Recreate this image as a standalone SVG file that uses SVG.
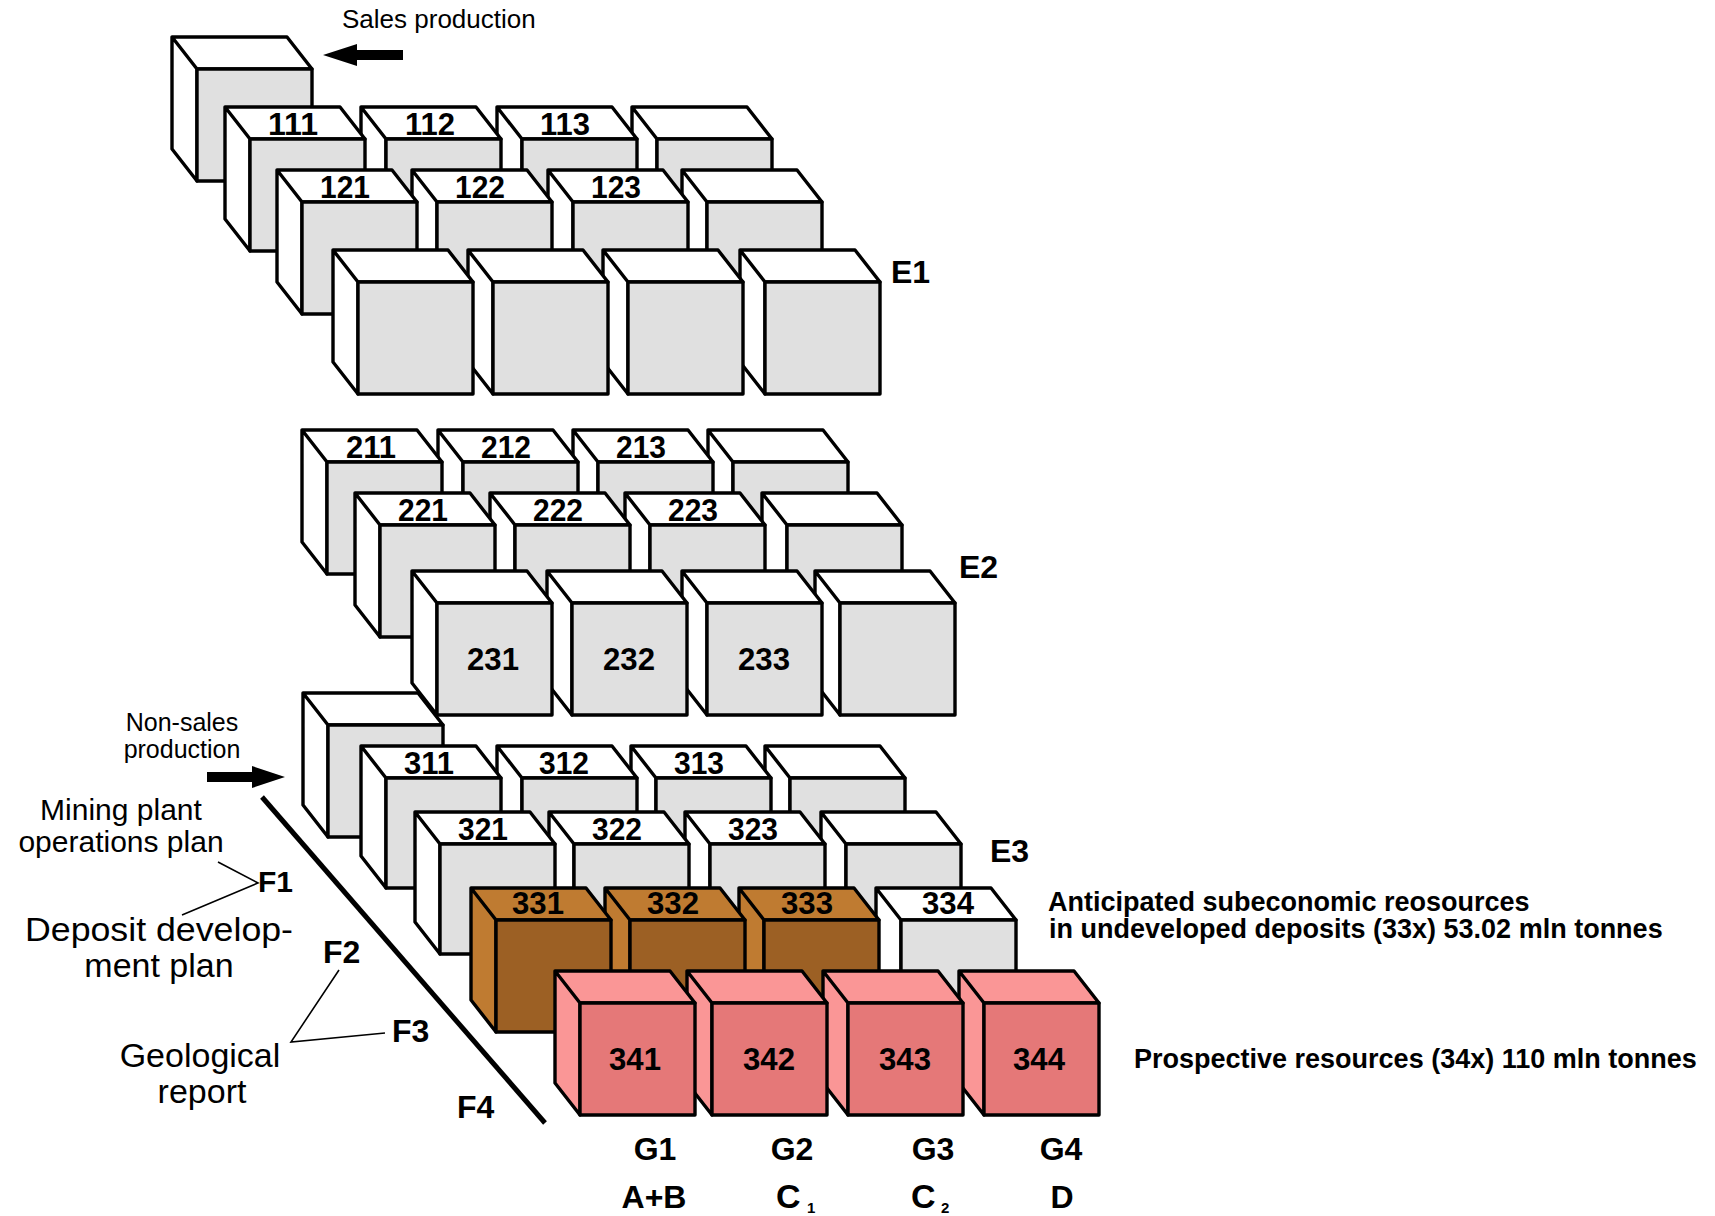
<svg xmlns="http://www.w3.org/2000/svg" xmlns:xlink="http://www.w3.org/1999/xlink" width="1715" height="1216" viewBox="0 0 1715 1216">
<style>
.bx{stroke:#000;stroke-width:3.4;stroke-linejoin:round}
.g{fill:#e0e0e0;color:#ffffff}
.br{fill:#9c6024;color:#bf7b31}
.pk{fill:#e57878;color:#fa9696}
text{font-family:"Liberation Sans",Arial,Helvetica,sans-serif;fill:#000}
.n{font-weight:bold;font-size:32px;text-anchor:middle}
.lb{font-weight:bold;font-size:32px}
.gl{font-weight:bold;font-size:32px;text-anchor:middle}
.rg{font-size:26px}
.rgm{font-size:25px;text-anchor:middle}
.big{font-size:30px;text-anchor:middle}
.big2{font-size:34px;text-anchor:middle}
.note{font-weight:bold;font-size:27px}
.ld{stroke:#000;stroke-width:1.6;fill:none}
.ar{fill:#000;stroke:none}
</style>
<defs>
<g id="box"><path d="M0,0H115L90,-32H-25Z M0,0L-25,-32V80L0,112Z" fill="currentColor"/><rect width="115" height="112"/></g>
<g id="boxs"><path d="M0,0H115L90,-32H-25Z M0,0L-25,-32V78L0,110Z" fill="currentColor"/><rect width="115" height="110"/></g>
</defs>
<rect width="1715" height="1216" fill="#fff"/>

<!-- E1 -->
<g id="e1-sales-box"><use href="#box" class="bx g" x="197" y="69"/></g>
<g id="b114"><use href="#box" class="bx g" x="657" y="139"/></g>
<g id="b113"><use href="#box" class="bx g" x="522" y="139"/><text class="n" x="565" y="135" textLength="50" lengthAdjust="spacingAndGlyphs">113</text></g>
<g id="b112"><use href="#box" class="bx g" x="386" y="139"/><text class="n" x="430" y="135" textLength="50" lengthAdjust="spacingAndGlyphs">112</text></g>
<g id="b111"><use href="#box" class="bx g" x="250" y="139"/><text class="n" x="293" y="135" textLength="50" lengthAdjust="spacingAndGlyphs">111</text></g>
<g id="b124"><use href="#box" class="bx g" x="707" y="202"/></g>
<g id="b123"><use href="#box" class="bx g" x="573" y="202"/><text class="n" x="616" y="198" textLength="50" lengthAdjust="spacingAndGlyphs">123</text></g>
<g id="b122"><use href="#box" class="bx g" x="437" y="202"/><text class="n" x="480" y="198" textLength="50" lengthAdjust="spacingAndGlyphs">122</text></g>
<g id="b121"><use href="#box" class="bx g" x="302" y="202"/><text class="n" x="345" y="198" textLength="50" lengthAdjust="spacingAndGlyphs">121</text></g>
<g id="b134"><use href="#box" class="bx g" x="765" y="282"/></g>
<g id="b133"><use href="#box" class="bx g" x="628" y="282"/></g>
<g id="b132"><use href="#box" class="bx g" x="493" y="282"/></g>
<g id="b131"><use href="#box" class="bx g" x="358" y="282"/></g>
<g id="label-e1"><text class="lb" x="891" y="283">E1</text></g>

<!-- E3 standalone (behind E2 front row) -->
<g id="e3-nonsales-box"><use href="#box" class="bx g" x="328" y="725"/></g>

<!-- E2 -->
<g id="b214"><use href="#box" class="bx g" x="733" y="462"/></g>
<g id="b213"><use href="#box" class="bx g" x="598" y="462"/><text class="n" x="641" y="458" textLength="50" lengthAdjust="spacingAndGlyphs">213</text></g>
<g id="b212"><use href="#box" class="bx g" x="463" y="462"/><text class="n" x="506" y="458" textLength="50" lengthAdjust="spacingAndGlyphs">212</text></g>
<g id="b211"><use href="#box" class="bx g" x="327" y="462"/><text class="n" x="371" y="458" textLength="50" lengthAdjust="spacingAndGlyphs">211</text></g>
<g id="b224"><use href="#box" class="bx g" x="787" y="525"/></g>
<g id="b223"><use href="#box" class="bx g" x="650" y="525"/><text class="n" x="693" y="521" textLength="50" lengthAdjust="spacingAndGlyphs">223</text></g>
<g id="b222"><use href="#box" class="bx g" x="515" y="525"/><text class="n" x="558" y="521" textLength="50" lengthAdjust="spacingAndGlyphs">222</text></g>
<g id="b221"><use href="#box" class="bx g" x="380" y="525"/><text class="n" x="423" y="521" textLength="50" lengthAdjust="spacingAndGlyphs">221</text></g>
<g id="b234"><use href="#box" class="bx g" x="840" y="603"/></g>
<g id="b233"><use href="#box" class="bx g" x="707" y="603"/><text class="n" x="764" y="670" textLength="52" lengthAdjust="spacingAndGlyphs">233</text></g>
<g id="b232"><use href="#box" class="bx g" x="572" y="603"/><text class="n" x="629" y="670" textLength="52" lengthAdjust="spacingAndGlyphs">232</text></g>
<g id="b231"><use href="#box" class="bx g" x="437" y="603"/><text class="n" x="493" y="670" textLength="52" lengthAdjust="spacingAndGlyphs">231</text></g>
<g id="label-e2"><text class="lb" x="959" y="578">E2</text></g>

<!-- E3 -->
<g id="b314"><use href="#boxs" class="bx g" x="790" y="778"/></g>
<g id="b313"><use href="#boxs" class="bx g" x="656" y="778"/><text class="n" x="699" y="774" textLength="50" lengthAdjust="spacingAndGlyphs">313</text></g>
<g id="b312"><use href="#boxs" class="bx g" x="522" y="778"/><text class="n" x="564" y="774" textLength="50" lengthAdjust="spacingAndGlyphs">312</text></g>
<g id="b311"><use href="#boxs" class="bx g" x="386" y="778"/><text class="n" x="429" y="774" textLength="50" lengthAdjust="spacingAndGlyphs">311</text></g>
<g id="b324"><use href="#boxs" class="bx g" x="846" y="844"/></g>
<g id="b323"><use href="#boxs" class="bx g" x="710" y="844"/><text class="n" x="753" y="840" textLength="50" lengthAdjust="spacingAndGlyphs">323</text></g>
<g id="b322"><use href="#boxs" class="bx g" x="574" y="844"/><text class="n" x="617" y="840" textLength="50" lengthAdjust="spacingAndGlyphs">322</text></g>
<g id="b321"><use href="#boxs" class="bx g" x="440" y="844"/><text class="n" x="483" y="840" textLength="50" lengthAdjust="spacingAndGlyphs">321</text></g>
<g id="b334"><use href="#box" class="bx g" x="901" y="920"/><text class="n" x="948" y="914" textLength="52" lengthAdjust="spacingAndGlyphs">334</text></g>
<g id="b333"><use href="#box" class="bx br" x="764" y="920"/><text class="n" x="807" y="914" textLength="52" lengthAdjust="spacingAndGlyphs">333</text></g>
<g id="b332"><use href="#box" class="bx br" x="630" y="920"/><text class="n" x="673" y="914" textLength="52" lengthAdjust="spacingAndGlyphs">332</text></g>
<g id="b331"><use href="#box" class="bx br" x="496" y="920"/><text class="n" x="538" y="914" textLength="52" lengthAdjust="spacingAndGlyphs">331</text></g>
<g id="b344"><use href="#box" class="bx pk" x="984" y="1003"/><text class="n" x="1039" y="1070" textLength="52" lengthAdjust="spacingAndGlyphs">344</text></g>
<g id="b343"><use href="#box" class="bx pk" x="848" y="1003"/><text class="n" x="905" y="1070" textLength="52" lengthAdjust="spacingAndGlyphs">343</text></g>
<g id="b342"><use href="#box" class="bx pk" x="712" y="1003"/><text class="n" x="769" y="1070" textLength="52" lengthAdjust="spacingAndGlyphs">342</text></g>
<g id="b341"><use href="#box" class="bx pk" x="580" y="1003"/><text class="n" x="635" y="1070" textLength="52" lengthAdjust="spacingAndGlyphs">341</text></g>
<g id="label-e3"><text class="lb" x="990" y="862">E3</text></g>

<!-- F axis line -->
<g id="f-axis"><line x1="262" y1="797" x2="545" y2="1123" stroke="#000" stroke-width="5"/></g>

<!-- connectors: arrows and leader lines -->
<g id="connectors">
<polygon class="ar" points="323,55 357,44 357,50 403,50 403,60 357,60 357,66"/>
<polygon class="ar" points="285,777 252,766 252,772 207,772 207,782 252,782 252,788"/>
<polyline class="ld" points="218,862 258,883 182,915"/>
<polyline class="ld" points="339,970 291,1042 385,1033"/>
</g>

<!-- left labels -->
<g id="label-sales"><text class="rg" x="342" y="28">Sales production</text></g>
<g id="label-nonsales"><text class="rgm" x="182" y="731">Non-sales</text><text class="rgm" x="182" y="758">production</text></g>
<g id="label-mining"><text class="big" x="121" y="820">Mining plant</text><text class="big" x="121" y="852">operations plan</text></g>
<g id="label-deposit"><text class="big2" x="159" y="941" textLength="268" lengthAdjust="spacingAndGlyphs">Deposit develop-</text><text class="big2" x="159" y="977">ment plan</text></g>
<g id="label-geo"><text class="big2" x="200" y="1067">Geological</text><text class="big2" x="202" y="1103">report</text></g>
<g id="label-f1"><text class="lb" x="258" y="892" style="font-size:30px">F1</text></g>
<g id="label-f2"><text class="lb" x="323" y="963">F2</text></g>
<g id="label-f3"><text class="lb" x="392" y="1042">F3</text></g>
<g id="label-f4"><text class="lb" x="457" y="1118">F4</text></g>

<!-- G labels -->
<g id="label-g1"><text class="gl" x="655" y="1160">G1</text><text class="gl" x="654" y="1208">A+B</text></g>
<g id="label-g2"><text class="gl" x="792" y="1160">G2</text><text class="lb" x="776" y="1208" style="font-size:34px">C</text><text class="lb" x="807" y="1213" style="font-size:15px">1</text></g>
<g id="label-g3"><text class="gl" x="933" y="1160">G3</text><text class="lb" x="911" y="1208" style="font-size:34px">C</text><text class="lb" x="941" y="1213" style="font-size:15px">2</text></g>
<g id="label-g4"><text class="gl" x="1061" y="1160">G4</text><text class="gl" x="1062" y="1208">D</text></g>

<!-- right notes -->
<g id="note-33x"><text class="note" x="1048" y="911">Anticipated subeconomic reosources</text><text class="note" x="1049" y="938">in undeveloped deposits (33x) 53.02 mln tonnes</text></g>
<g id="note-34x"><text class="note" x="1134" y="1068">Prospective resources (34x) 110 mln tonnes</text></g>
</svg>
